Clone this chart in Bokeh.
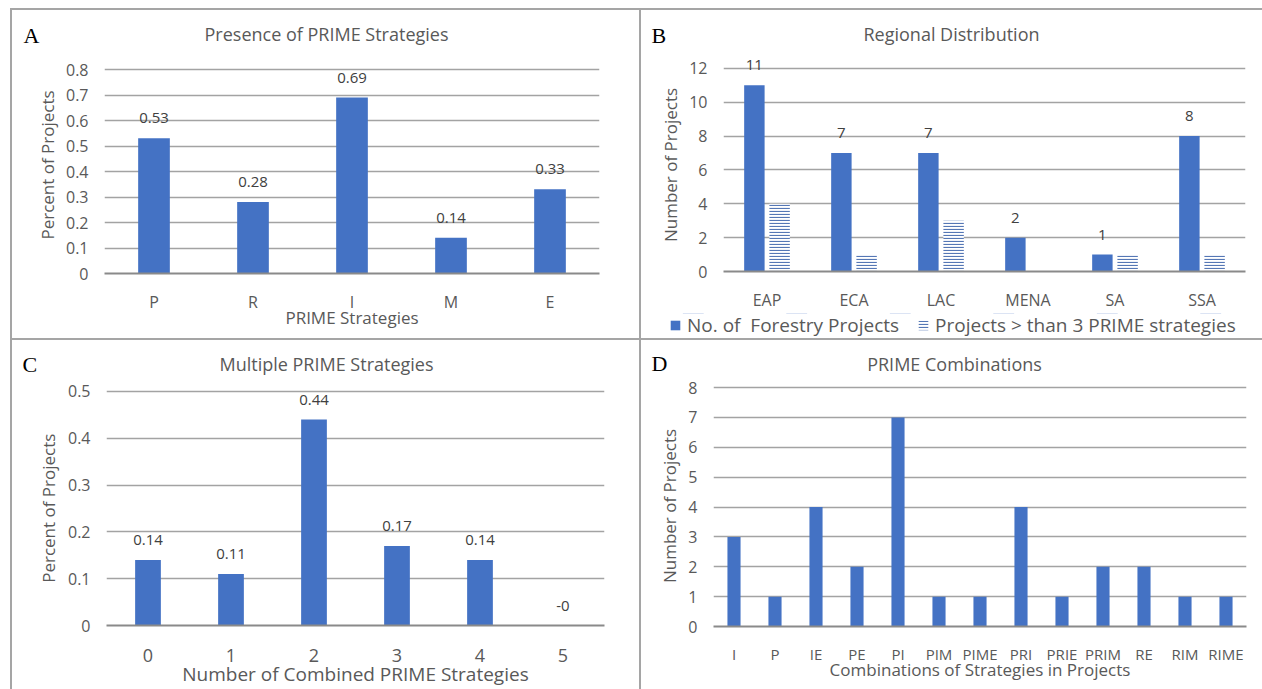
from bokeh.plotting import figure
from bokeh.models import (ColumnDataSource, FactorRange, Range1d, SingleIntervalTicker,
                          NumeralTickFormatter, Label, LabelSet, Legend, LegendItem, Spacer)
from bokeh.layouts import row, column
from bokeh.transform import dodge
from bokeh.core.properties import value
from bokeh.embed import file_html
from bokeh.resources import INLINE

# ---------------- data ----------------
prime_strategies = ["P", "R", "I", "M", "E"]
presence_share = [0.53, 0.28, 0.69, 0.14, 0.33]

regions = ["EAP", "ECA", "LAC", "MENA", "SA", "SSA"]
forestry_projects = [11, 7, 7, 2, 1, 8]
projects_over3 = [4, 1, 3, 0, 1, 1]

combined_counts = ["0", "1", "2", "3", "4", "5"]
combined_share = [0.14, 0.11, 0.44, 0.17, 0.14, -0.0]

combinations = ["I", "P", "IE", "PE", "PI", "PIM", "PIME", "PRI", "PRIE", "PRIM", "RE", "RIM", "RIME"]
combination_counts = [3, 1, 4, 2, 7, 1, 1, 4, 1, 2, 2, 1, 1]

legend_labels = ["No. of  Forestry Projects", "Projects > than 3 PRIME strategies"]

# ---------------- style ----------------
FONT = "Open Sans"
SERIF = "Liberation Serif"
TXT = "#595959"
LBL = "#404040"
BLUE = "#4472c4"
HATCH = "#5577b5"
GRID = "#a3a3a3"
BASE = "#8a8a8a"
FRAME = "#a5a5a5"


def blank(w, h, x_range=None, y_range=None):
    f = figure(width=w, height=h,
               x_range=x_range if x_range is not None else Range1d(0, 1),
               y_range=y_range if y_range is not None else Range1d(0, 1),
               x_axis_location=None, y_axis_location=None, min_border=0,
               output_backend="svg", toolbar_location=None, frame_align=False)
    f.outline_line_color = None
    f.grid.visible = False
    f.background_fill_color = "white"
    f.border_fill_color = "white"
    return f


def header(w, h, letter, title, lx, ly, tx, ty):
    f = blank(w, h)
    f.add_layout(Label(x=lx, y=ly, x_units="screen", y_units="screen", text=letter,
                       text_font=SERIF, text_font_size="22px", text_color="black",
                       text_baseline="alphabetic", text_align="left"))
    f.add_layout(Label(x=tx, y=ty, x_units="screen", y_units="screen", text=title,
                       text_font=FONT, text_font_size="18px", text_color=TXT,
                       text_baseline="alphabetic", text_align="center"))
    return f


def make_panel(w, h, factors, ymax, interval, ml, mr, mt, mb, pct=False,
               xtick_size="16px", xlabel="", ylabel="", xstand=17, xlabstand=-7,
               ystand=16, ylabstand=4, xlab_size="17px"):
    p = figure(width=w, height=h,
               x_range=FactorRange(factors=factors, range_padding=0),
               y_range=Range1d(0, ymax),
               output_backend="svg", toolbar_location=None, frame_align=False,
               min_border_left=ml, min_border_right=mr,
               min_border_top=mt, min_border_bottom=mb)
    p.outline_line_color = None
    p.background_fill_color = "white"
    p.border_fill_color = "white"
    p.xgrid.grid_line_color = None
    p.ygrid.grid_line_color = GRID
    p.ygrid.grid_line_width = 1.4
    p.yaxis.ticker = SingleIntervalTicker(interval=interval)
    if pct:
        p.yaxis.formatter = NumeralTickFormatter(format="0.[0]")
    for ax in (p.xaxis[0], p.yaxis[0]):
        ax.major_tick_line_color = None
        ax.minor_tick_line_color = None
        ax.major_tick_out = 0
        ax.major_tick_in = 0
        ax.minor_tick_out = 0
        ax.major_label_text_font = FONT
        ax.major_label_text_color = TXT
        ax.axis_label_text_font = FONT
        ax.axis_label_text_color = TXT
        ax.axis_label_text_font_style = "normal"
    p.yaxis.axis_line_color = None
    p.yaxis.major_label_text_font_size = "16px"
    p.yaxis.axis_label = ylabel
    p.yaxis.axis_label_text_font_size = "17px"
    p.yaxis.major_label_standoff = ystand
    p.yaxis.axis_label_standoff = ylabstand
    p.xaxis.axis_line_color = BASE
    p.xaxis.axis_line_width = 2
    p.xaxis.major_label_text_font_size = xtick_size
    p.xaxis.axis_label = xlabel if xlabel else None
    p.xaxis.axis_label_text_font_size = xlab_size
    p.xaxis.major_label_standoff = xstand
    p.xaxis.axis_label_standoff = xlabstand
    return p


def add_values(p, src, xcol, ycol, tcol, xoff=0.0):
    x = dodge(xcol, xoff, range=p.x_range) if xoff else xcol
    p.add_layout(LabelSet(x=x, y=ycol, text=tcol, source=src, y_offset=15,
                          text_font=value(FONT), text_font_size=value("15px"),
                          text_color=LBL, text_align="center",
                          text_baseline="alphabetic"))


# ---------------- Panel A ----------------
hA = header(627, 40, "A", "Presence of PRIME Strategies", 11, 15, 314, 17)
pA = make_panel(627, 288, prime_strategies, 0.851, 0.1, 92, 40, 6, 65, pct=True,
                xlabel="PRIME Strategies", ylabel="Percent of Projects", xlabstand=-10)
srcA = ColumnDataSource(dict(x=prime_strategies, y=presence_share,
                             t=[f"{round(v, 2):g}" for v in presence_share]))
pA.vbar(x="x", top="y", width=0.32, source=srcA, fill_color=BLUE, line_color=None)
add_values(pA, srcA, "x", "y", "t")

# ---------------- Panel B ----------------
hB = header(621, 40, "B", "Regional Distribution", 10, 15, 310, 17)
pB = make_panel(621, 263, regions, 12.585, 2, 82, 17, 8, 40,
                xlabel="", ylabel="Number of Projects")
srcB = ColumnDataSource(dict(x=regions, a=forestry_projects, b=projects_over3,
                             t=[str(v) for v in forestry_projects]))
bar_a = dict(fill_color=BLUE, line_color=None)
bar_b = dict(fill_color="white", line_color=None, hatch_pattern="horizontal_line",
             hatch_color=HATCH, hatch_scale=3, hatch_weight=1.2)
pB.vbar(x=dodge("x", -0.145, range=pB.x_range), top="a", width=0.235, source=srcB, **bar_a)
pB.vbar(x=dodge("x", 0.145, range=pB.x_range), top="b", width=0.235, source=srcB, **bar_b)
add_values(pB, srcB, "x", "a", "t", xoff=-0.145)

# legend strip under panel B: same two series, with a y-range below the bars,
# so only the legend entries show
fB = blank(621, 25, x_range=FactorRange(factors=regions), y_range=Range1d(-20, -10))
g1 = fB.vbar(x="x", top="a", width=0.2, source=srcB, **bar_a)
g2 = fB.vbar(x="x", top="b", width=0.2, source=srcB, **bar_b)
legB = Legend(items=[LegendItem(label=legend_labels[0], renderers=[g1]),
                     LegendItem(label=legend_labels[1], renderers=[g2])],
              orientation="horizontal", location=(28, 0),
              glyph_width=12, glyph_height=12, label_standoff=6, spacing=18,
              padding=0, margin=0, border_line_color=None, background_fill_alpha=0,
              label_text_font=FONT, label_text_font_size="19px", label_text_color=TXT)
fB.add_layout(legB, "center")

# ---------------- Panel C ----------------
hC = header(627, 38, "C", "Multiple PRIME Strategies", 10, 14, 314, 15)
pC = make_panel(627, 311, combined_counts, 0.5106, 0.1, 94, 35, 8, 63, pct=True,
                xtick_size="18px", xlabel="Number of Combined PRIME Strategies",
                ylabel="Percent  of Projects", xstand=23, xlabstand=-4, ylabstand=5,
                xlab_size="19px")
srcC = ColumnDataSource(dict(x=combined_counts, y=combined_share,
                             t=[f"{round(v, 2):g}" for v in combined_share]))
pC.vbar(x="x", top="y", width=0.31, source=srcC, fill_color=BLUE, line_color=None)
add_values(pC, srcC, "x", "y", "t")

# ---------------- Panel D ----------------
hD = header(621, 38, "D", "PRIME Combinations", 10, 15, 313, 15)
pD = make_panel(621, 311, combinations, 8.067, 1, 72, 16, 7, 63,
                xtick_size="15px", xlabel="Combinations of Strategies in Projects",
                ylabel="Number of Projects", xstand=17, xlabstand=-9)
srcD = ColumnDataSource(dict(x=combinations, y=combination_counts))
pD.vbar(x="x", top="y", width=0.32, source=srcD, fill_color=BLUE, line_color=None)


# ---------------- layout with panel frames ----------------
def vline(h):
    return Spacer(width=2, height=h, styles={"background-color": FRAME})


def hline(w):
    return Spacer(width=w, height=2, styles={"background-color": FRAME})


layout = column(
    Spacer(width=1262, height=8),
    row(Spacer(width=10, height=681), vline(681),
        column(hline(1250),
               row(column(hA, pA), vline(328), column(hB, pB, fB)),
               hline(1250),
               row(column(hC, pC), vline(349), column(hD, pD)))))

open("out.html", "w").write(file_html(layout, INLINE))
